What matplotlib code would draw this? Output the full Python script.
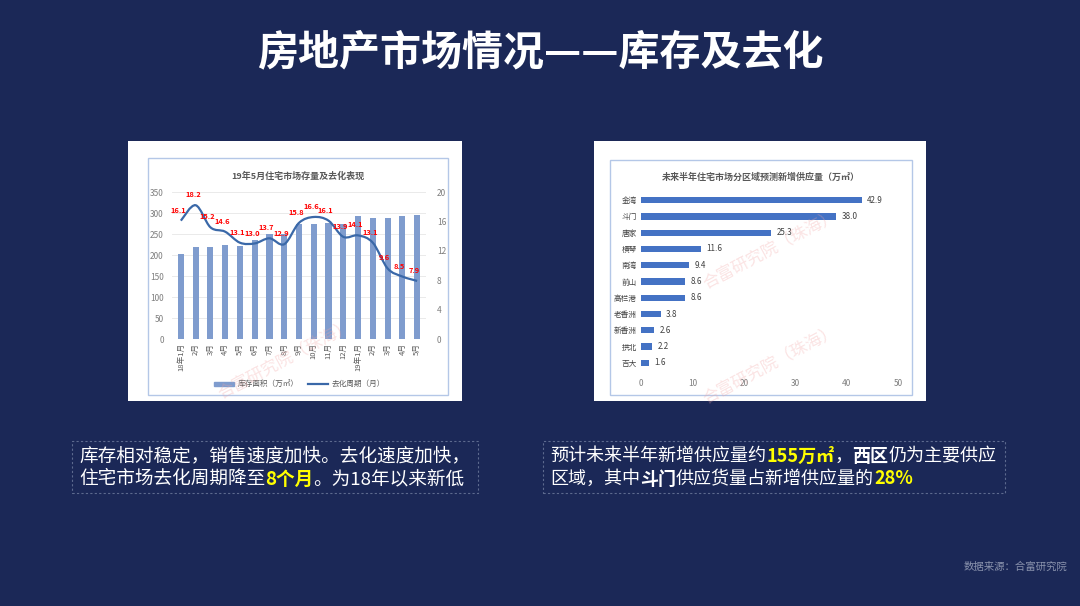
import matplotlib.pyplot as plt
import numpy as np
from matplotlib.path import Path
from matplotlib.patches import PathPatch, Rectangle

plt.rcParams['font.family'] = ['Noto Sans CJK SC', 'DejaVu Sans']

# 左图数据
months = ['18年1月', '2月', '3月', '4月', '5月', '6月', '7月', '8月', '9月',
          '10月', '11月', '12月', '19年1月', '2月', '3月', '4月', '5月']
stock = [202, 219, 220, 224, 221, 235, 249, 250, 274, 275, 276, 275,
         294, 288, 288, 293, 296]
cycle = [16.1, 18.2, 15.2, 14.6, 13.1, 13.0, 13.7, 12.9, 15.8, 16.6, 16.1,
         13.9, 14.1, 13.1, 9.6, 8.5, 7.9]

# 右图数据
areas = ['金湾', '斗门', '唐家', '横琴', '南湾', '前山', '高栏港', '老香洲',
         '新香洲', '拱北', '吉大']
supply = [42.9, 38.0, 25.3, 11.6, 9.4, 8.6, 8.6, 3.8, 2.6, 2.2, 1.6]

BG = '#1b2857'
W, H = 1080, 606


def fx(px):
    return px / W


def fy(py):
    return 1 - py / H


fig = plt.figure(figsize=(10.8, 6.06), dpi=100)
fig.patch.set_facecolor(BG)

fig.text(0.5, fy(52), '房地产市场情况——库存及去化', color='white', fontsize=29.5,
         fontweight='bold', ha='center', va='center')

# 白色底板
for x0, x1 in [(128, 462), (594, 926)]:
    fig.patches.append(Rectangle((fx(x0), fy(401)), fx(x1 - x0), (401 - 141) / H,
                                 transform=fig.transFigure, facecolor='white',
                                 edgecolor='none', zorder=-2))
fig.patches.append(Rectangle((fx(148), fy(395)), fx(300), 237 / H,
                             transform=fig.transFigure, facecolor='none',
                             edgecolor='#b4c7e7', lw=1, zorder=-1))
fig.patches.append(Rectangle((fx(610), fy(395)), fx(302), 235 / H,
                             transform=fig.transFigure, facecolor='none',
                             edgecolor='#b4c7e7', lw=1, zorder=-1))

# ---------------- 左图 ----------------
ax = fig.add_axes([fx(172), fy(339), fx(254), (339 - 192) / H])
ax.set_facecolor('none')
x = np.arange(len(months))
ax.bar(x, stock, width=0.42, color='#7f9cce', zorder=2)
ax.set_ylim(0, 350)
ax.set_yticks(range(0, 351, 50))
ax.set_xlim(-0.6, len(months) - 0.4)
ax.set_xticks(x)
ax.set_xticklabels(months, rotation=90, fontsize=5.5, color='#595959')
ax.tick_params(axis='y', labelsize=6, colors='#7f7f7f', length=0, pad=6)
ax.tick_params(axis='x', length=0, pad=3)
ax.grid(axis='y', color='#e6e6e6', lw=0.6, zorder=0)
for s in ax.spines.values():
    s.set_visible(False)

ax2 = ax.twinx()
ax2.set_ylim(0, 20)
ax2.set_yticks(range(0, 21, 4))
ax2.tick_params(axis='y', labelsize=6, colors='#7f7f7f', length=0, pad=8)
for s in ax2.spines.values():
    s.set_visible(False)

# 平滑曲线（Catmull-Rom 转贝塞尔）
pts = np.column_stack([x, cycle]).astype(float)
verts = [pts[0]]
codes = [Path.MOVETO]
n = len(pts)
for i in range(n - 1):
    p0 = pts[i - 1] if i > 0 else pts[i]
    p1 = pts[i]
    p2 = pts[i + 1]
    p3 = pts[i + 2] if i + 2 < n else pts[i + 1]
    verts += [p1 + (p2 - p0) / 6, p2 - (p3 - p1) / 6, p2]
    codes += [Path.CURVE4] * 3
ax2.add_patch(PathPatch(Path(verts, codes), facecolor='none',
                        edgecolor='#3a68a8', lw=1.6, zorder=3))
for xi, v in zip(x, cycle):
    ax2.annotate(f'{v:.1f}', (xi, v), xytext=(-2, 5), textcoords='offset points',
                 ha='center', va='bottom', fontsize=5.4, color='#ff0000',
                 fontweight='bold', zorder=4)

fig.text(0.5 * (fx(148) + fx(448)), fy(176), '19年5月住宅市场存量及去化表现',
         ha='center', va='center', fontsize=6.5, color='#595959', fontweight='bold')
fig.patches.append(Rectangle((fx(214), fy(386)), fx(20), 4 / H,
                             transform=fig.transFigure, color='#7f9cce'))
fig.text(fx(238), fy(384), '库存面积（万㎡）', fontsize=5.5, color='#595959', va='center')
fig.lines.append(plt.Line2D([fx(308), fx(328)], [fy(384), fy(384)],
                            transform=fig.transFigure, color='#3a68a8', lw=1.6))
fig.text(fx(332), fy(384), '去化周期（月）', fontsize=5.5, color='#595959', va='center')

# ---------------- 右图 ----------------
bx = fig.add_axes([fx(641), fy(371), fx(257), (371 - 192) / H])
bx.set_facecolor('none')
y = np.arange(len(areas))
bx.barh(y, supply, height=0.38, color='#4472c4', zorder=2)
bx.set_ylim(len(areas) - 0.5, -0.5)
bx.set_yticks(y)
bx.set_yticklabels(areas, fontsize=5.5, color='#404040')
bx.set_xlim(0, 50)
bx.set_xticks(range(0, 51, 10))
bx.tick_params(axis='x', labelsize=6, colors='#7f7f7f', length=0, pad=6)
bx.tick_params(axis='y', length=0, pad=3)
for s in bx.spines.values():
    s.set_visible(False)
for yi, v in zip(y, supply):
    bx.annotate(f'{v:.1f}', (v, yi), xytext=(4, 0), textcoords='offset points',
                ha='left', va='center', fontsize=5.8, color='#404040')
fig.text(0.5 * (fx(610) + fx(912)), fy(177), '未来半年住宅市场分区域预测新增供应量（万㎡）',
         ha='center', va='center', fontsize=6.5, color='#595959', fontweight='bold')

# 水印
for wx, wy in [(215, 360), (700, 365), (700, 250)]:
    fig.text(fx(wx), fy(wy), '合富研究院（珠海）', fontsize=12, color='#f2a5a5',
             alpha=0.3, rotation=28, ha='left', va='center', zorder=5)

# ---------------- 文字框 ----------------
for x0, x1 in [(72, 478), (543, 1005)]:
    fig.patches.append(Rectangle((fx(x0), fy(493)), fx(x1 - x0), 52 / H,
                                 transform=fig.transFigure, facecolor='none',
                                 edgecolor='#5d6a8e', lw=0.8, ls=(0, (2, 2))))

renderer = fig.canvas.get_renderer()


def rich_line(x0, y0, parts, size=13):
    xpos = fx(x0)
    for txt, col, bold in parts:
        t = fig.text(xpos, fy(y0), txt, color=col, fontsize=size, va='center',
                     ha='left', fontweight='bold' if bold else 'normal')
        bb = t.get_window_extent(renderer=renderer)
        xpos += bb.width / W


WHITE, YEL = 'white', '#ffff00'
rich_line(79, 456, [('库存相对稳定，销售速度加快。去化速度加快，', WHITE, False)], 13.4)
rich_line(79, 479, [('住宅市场去化周期降至', WHITE, False), ('8个月', YEL, True),
                    ('。为18年以来新低', WHITE, False)], 13.4)
rich_line(550, 456, [('预计未来半年新增供应量约', WHITE, False), ('155万㎡', YEL, True),
                     ('，', WHITE, False), ('西区', WHITE, True),
                     ('仍为主要供应', WHITE, False)])
rich_line(550, 479, [('区域，其中', WHITE, False), ('斗门', WHITE, True),
                     ('供应货量占新增供应量的', WHITE, False), ('28%', YEL, True)])

fig.text(fx(1067), fy(567), '数据来源：合富研究院', fontsize=7.5, color='#8a93ad',
         ha='right', va='center')

fig.savefig('out.png', dpi=100, facecolor=BG)
